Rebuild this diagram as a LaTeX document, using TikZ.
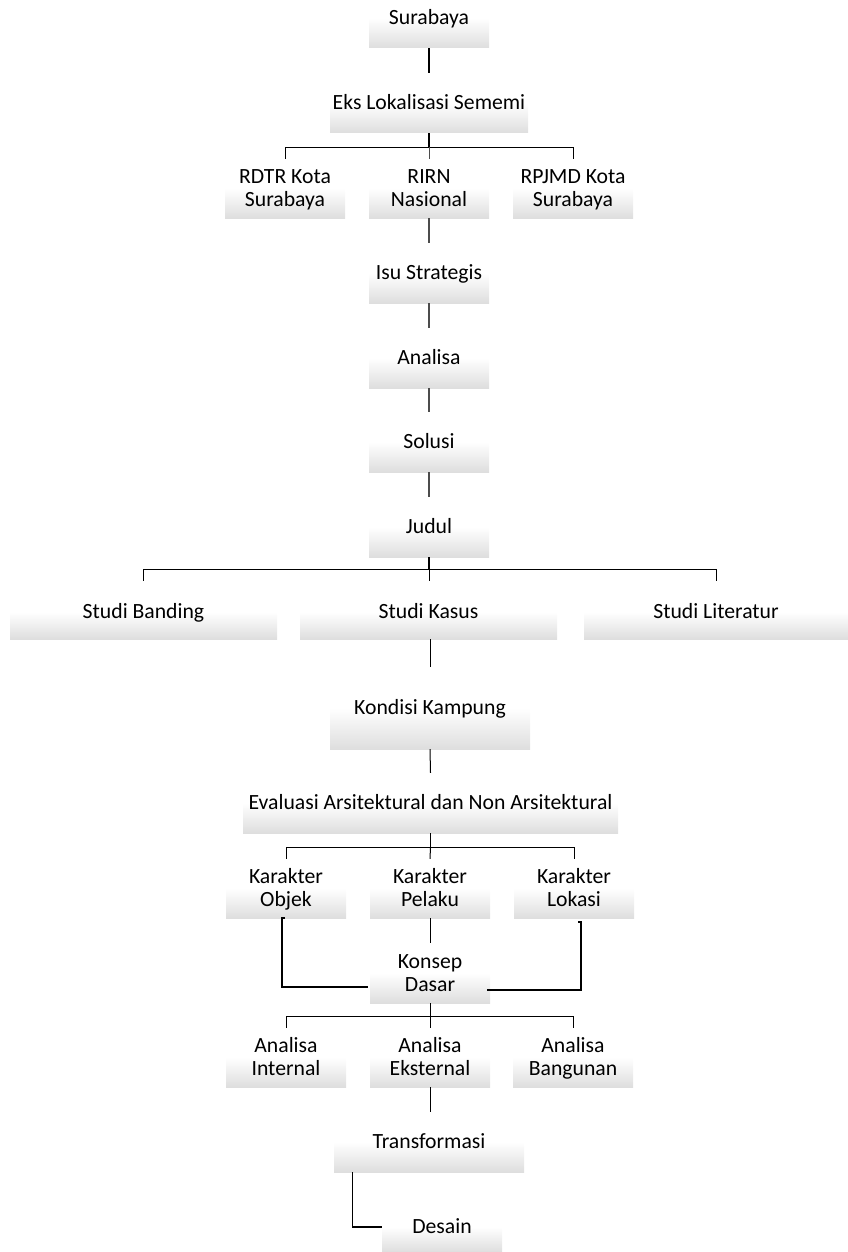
\documentclass[tikz,border=0pt]{standalone}
\usepackage{fontspec}
\setmainfont{Carlito}
\usetikzlibrary{calc}
\newcommand\lst{\rule[-3pt]{0pt}{19pt}}
\begin{document}
\begin{tikzpicture}[x=1pt,y=-1pt,
  box/.style={minimum width=120pt, minimum height=60pt, inner sep=0pt, align=center,
    top color=white, bottom color=black!13, middle color=white,
    font=\fontsize{21.7}{23}\selectfont},
  thk/.style={line width=2pt, black},
  chain/.style={line width=1.8pt, black!70},
  tree/.style={line width=1.2pt, black},
  drop/.style={line width=1pt, black},
  elbow/.style={line width=1.5pt, black}]
\useasboundingbox (0,0) rectangle (848,1252);

\node[box] (sur) at (429,18) {\lst Surabaya};
\node[box, minimum width=198pt] (eks) at (429,103) {\lst Eks Lokalisasi Sememi};
\node[box, minimum height=59pt] (rdtr) at (285,188.5) {\lst RDTR Kota\\\lst Surabaya};
\node[box, minimum height=59pt] (rirn) at (429,188.5) {\lst RIRN\\\lst Nasional};
\node[box, minimum height=59pt] (rpjmd) at (573,188.5) {\lst RPJMD Kota\\\lst Surabaya};
\node[box] (isu) at (429,273) {\lst Isu Strategis};
\node[box] (ana) at (429,358) {\lst Analisa};
\node[box] (sol) at (429,442) {\lst Solusi};
\node[box] (jud) at (429,527) {\lst Judul};
\node[box, minimum width=267pt, minimum height=54pt] (sb) at (143.5,612) {\lst Studi Banding};
\node[box, minimum width=257pt, minimum height=54pt] (sk) at (428.5,612) {\lst Studi Kasus};
\node[box, minimum width=264pt, minimum height=54pt] (sl) at (716,612) {\lst Studi Literatur};
\node[box, minimum width=200pt, minimum height=82pt] (kon) at (430,708) {\lst Kondisi Kampung};
\node[box, minimum width=375pt] (eva) at (430.5,803) {\lst Evaluasi Arsitektural dan Non Arsitektural};
\node[box, minimum height=59pt] (kob) at (286,888.5) {\lst Karakter\\\lst Objek};
\node[box, minimum height=59pt] (kpe) at (430,888.5) {\lst Karakter\\\lst Pelaku};
\node[box, minimum height=59pt] (klo) at (574,888.5) {\lst Karakter\\\lst Lokasi};
\node[box, minimum height=60pt] (kd) at (430,973) {\lst Konsep\\\lst Dasar};
\node[box, minimum height=59pt] (ai) at (286,1057.5) {\lst Analisa\\\lst Internal};
\node[box, minimum height=59pt] (ae) at (430,1057.5) {\lst Analisa\\\lst Eksternal};
\node[box, minimum height=59pt] (ab) at (573,1057.5) {\lst Analisa\\\lst Bangunan};
\node[box, minimum width=190pt] (tr) at (429,1142) {\lst Transformasi};
\node[box, minimum height=50pt] (des) at (442,1227) {\lst Desain};

% top chain
\draw[thk] (sur.south) -- (eks.north);
\draw[thk] (eks.south) -- ++(0,14) coordinate (e1);
\draw[tree] (rdtr.north |- e1) -- (rpjmd.north |- e1);
\draw[drop] (rdtr.north |- e1) -- (rdtr.north);
\draw[drop, black!70] (e1) -- (rirn.north);
\draw[drop] (rpjmd.north |- e1) -- (rpjmd.north);

\draw[chain] (rirn.south) -- (isu.north);
\draw[chain] (isu.south) -- (ana.north);
\draw[chain] (ana.south) -- (sol.north);
\draw[chain] (sol.south) -- (jud.north);

\draw[thk] (jud.south) -- ++(0,12) coordinate (j1);
\draw[tree] (sb.north |- j1) -- (sl.north |- j1);
\draw[drop] (sb.north |- j1) -- ++(0,12);
\draw[drop] (j1) -- ++(0,12);
\draw[drop] (sl.north |- j1) -- ++(0,12);

\draw[drop] (sk.south -| kon.north) -- (kon.north);
\draw[drop] (kon.south) -- (eva.north);

\draw[drop] (eva.south) -- ++(0,14) coordinate (v1);
\draw[tree] (kob.north |- v1) -- (klo.north |- v1);
\draw[drop] (kob.north |- v1) -- (kob.north);
\draw[drop] (v1) -- (kpe.north);
\draw[drop] (klo.north |- v1) -- (klo.north);

\draw[drop] (kpe.south) -- (kd.north);
\coordinate (ko1) at ($(kob.south)+(-4,0)$);
\coordinate (lo1) at ($(klo.south)+(7,4)$);
\draw[elbow] ($(ko1)+(3,0)$) -- (ko1) |- ($(kd.west)+(-2,14)$);
\draw[elbow] ($(lo1)+(-3,0)$) -- (lo1) |- ($(kd.east)+(-3,17)$);

\draw[drop] (kd.south) -- ++(0,13) coordinate (d1);
\draw[tree] (ai.north |- d1) -- (ab.north |- d1);
\draw[drop] (ai.north |- d1) -- (ai.north);
\draw[drop] (d1) -- (ae.north);
\draw[drop] (ab.north |- d1) -- (ab.north);

\draw[drop] (ae.south) -- (ae.south |- tr.north);
\coordinate (t1) at ($(tr.south west)+(19,0)$);
\draw[elbow, line width=1.2pt] (t1) |- (des.west);
\end{tikzpicture}
\end{document}
